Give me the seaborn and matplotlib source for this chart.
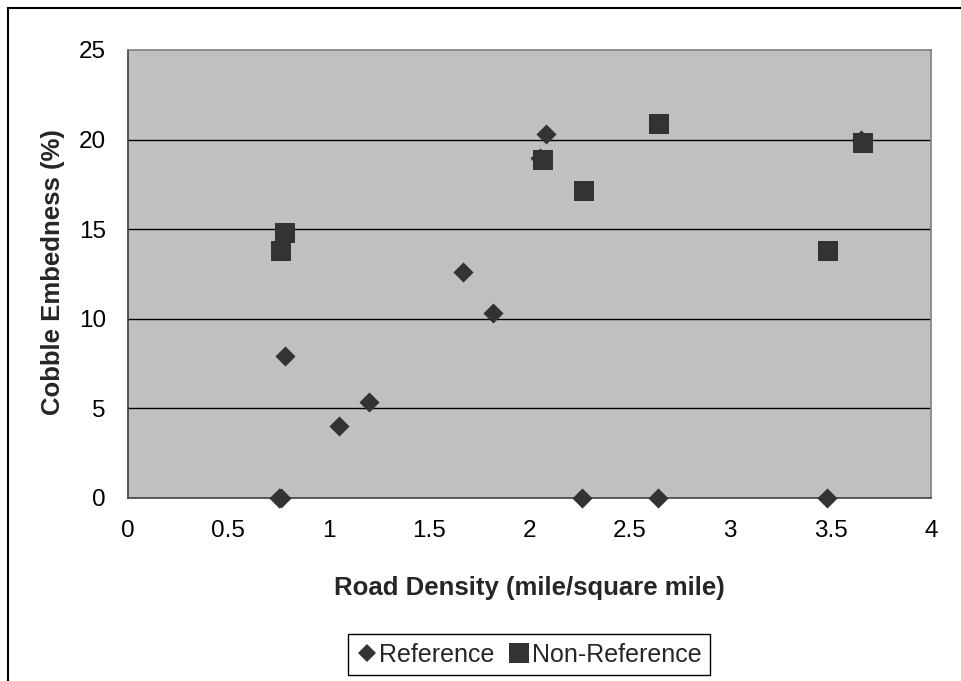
import numpy as np
import pandas as pd
import matplotlib
matplotlib.use('Agg')
import matplotlib.pyplot as plt
import seaborn as sns
from matplotlib.patches import Rectangle
from matplotlib.lines import Line2D

# data
ref_density = [0.76, 0.78, 1.05, 1.20, 1.67, 1.82, 2.08, 2.05, 3.65, 2.26, 2.64, 3.48, 0.75]
ref_embed = [0.0, 7.9, 4.0, 5.35, 12.6, 10.35, 20.3, 19.0, 20.0, 0.0, 0.0, 0.0, 0.0]
nonref_density = [0.76, 0.78, 2.065, 2.27, 2.645, 3.485, 3.66]
nonref_embed = [13.8, 14.8, 18.85, 17.15, 20.85, 13.8, 19.8]
x_ticks = [0, 0.5, 1, 1.5, 2, 2.5, 3, 3.5, 4]
y_ticks = [0, 5, 10, 15, 20, 25]

sns.set_style('white')
plt.rcParams['font.family'] = ['Liberation Sans', 'DejaVu Sans']

W, H = 961, 681
fig = plt.figure(figsize=(W / 100, H / 100), dpi=100)
ax = fig.add_axes([128 / W, 1 - 498 / H, (931 - 128) / W, (498 - 50) / H])
ax.set_facecolor('#C0C0C0')

df_ref = pd.DataFrame({'x': ref_density, 'y': ref_embed})
df_non = pd.DataFrame({'x': nonref_density, 'y': nonref_embed})
mark_col = '#333333'
sns.scatterplot(data=df_ref, x='x', y='y', marker='D', s=105, color=mark_col,
                linewidth=0, ax=ax, zorder=3, clip_on=False)
sns.scatterplot(data=df_non, x='x', y='y', marker='s', s=215, color=mark_col,
                linewidth=0, ax=ax, zorder=4, clip_on=False)

ax.set_xlim(0, 4)
ax.set_ylim(0, 25)
ax.set_xticks(x_ticks)
ax.set_xticklabels([f'{t:g}' for t in x_ticks])
ax.set_yticks(y_ticks)
ax.set_yticklabels([f'{t:g}' for t in y_ticks])
for v in y_ticks[1:-1]:
    ax.axhline(v, color='black', lw=1.0, zorder=1)

ax.tick_params(axis='both', which='major', direction='out', length=6, width=1,
               color='#606060', labelsize=17.5, labelcolor='black')
ax.tick_params(axis='x', pad=10)
ax.tick_params(axis='y', pad=10)
for side in ['left', 'bottom']:
    ax.spines[side].set_color('#404040')
    ax.spines[side].set_linewidth(1.2)
for side in ['top', 'right']:
    ax.spines[side].set_color('#808080')
    ax.spines[side].set_linewidth(1.2)

ax.set_xlabel('Road Density (mile/square mile)', fontsize=18.5, fontweight='bold')
ax.set_ylabel('Cobble Embedness (%)', fontsize=18.5, fontweight='bold')
ax.xaxis.label.set_va('center')
ax.yaxis.label.set_va('center')
ax.xaxis.set_label_coords(0.5, -(588 - 498) / 448)
ax.yaxis.set_label_coords(-(128 - 53) / 803, 0.505)

handles = [
    Line2D([], [], marker='D', color='none', markerfacecolor=mark_col, markeredgewidth=0, markersize=9),
    Line2D([], [], marker='s', color='none', markerfacecolor=mark_col, markeredgewidth=0, markersize=15),
]
leg = fig.legend(handles, ['Reference', 'Non-Reference'], loc='center',
                 bbox_to_anchor=((347 + 711) / 2 / W, 1 - 654.5 / H),
                 bbox_transform=fig.transFigure, ncol=2, fontsize=18,
                 frameon=True, fancybox=False, framealpha=1, edgecolor='black',
                 handlelength=0.8, handletextpad=0.1, columnspacing=0.6,
                 borderpad=0.35, borderaxespad=0)
leg.get_frame().set_linewidth(1.0)

fig.patches.append(Rectangle((8 / W, -0.1), 1.2, 1.1 - 8 / H, transform=fig.transFigure,
                             fill=False, edgecolor='black', lw=1.5, clip_on=False))

fig.savefig('out.png', dpi=100)
